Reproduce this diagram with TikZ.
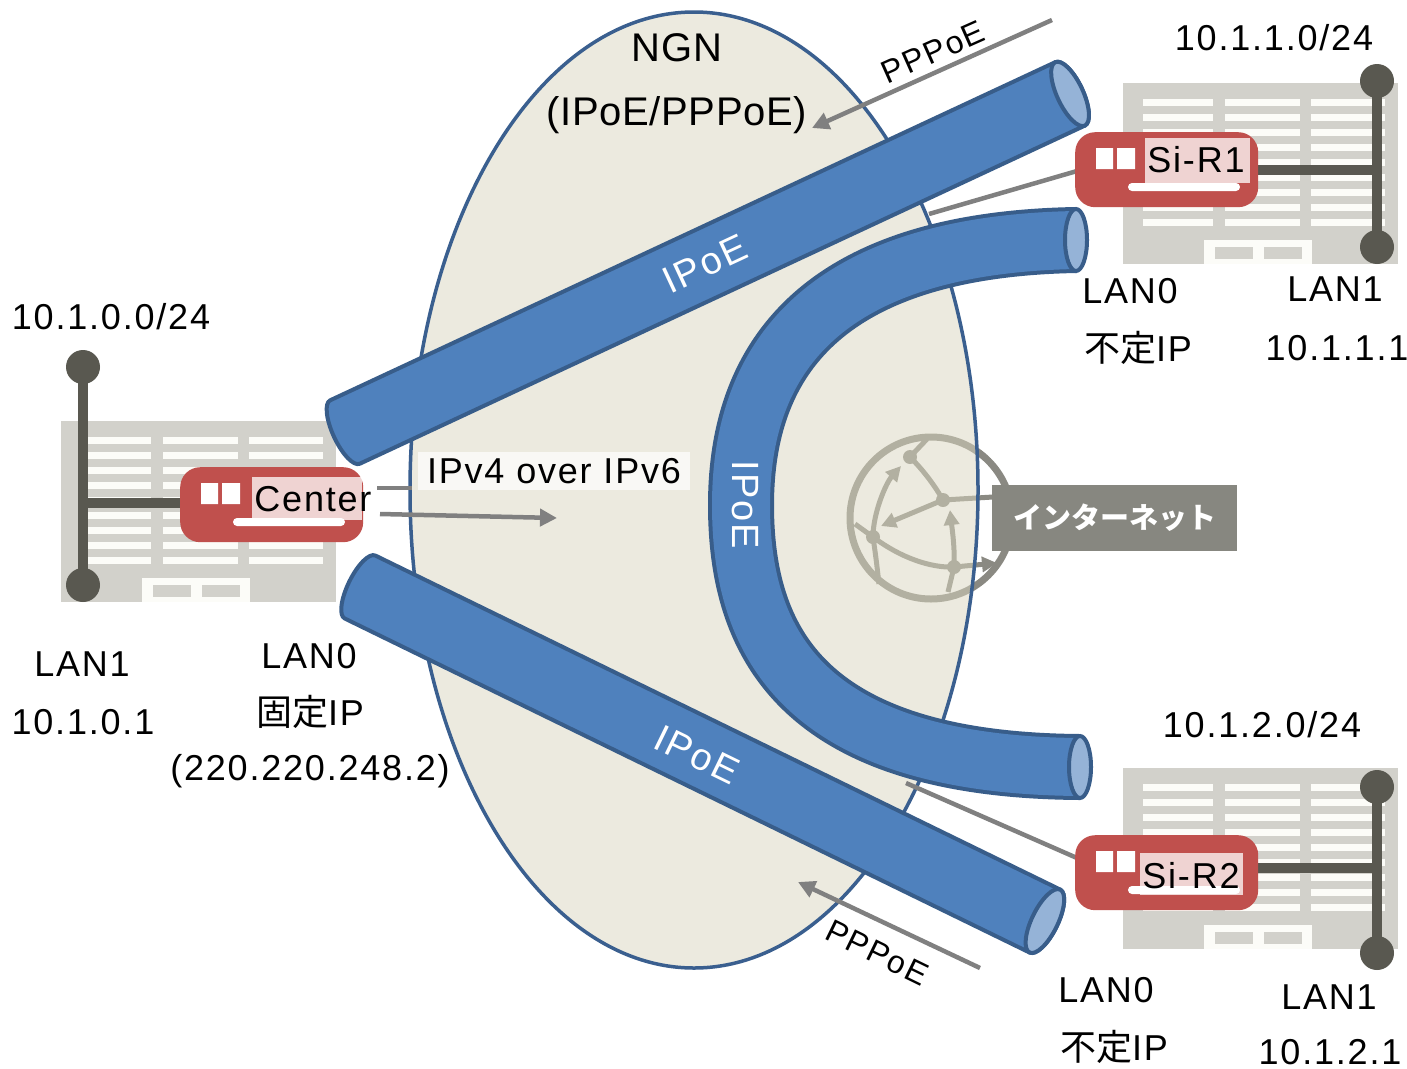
\documentclass[tikz,border=0pt]{standalone}
\usepackage{fontspec}
\setmainfont{Liberation Sans}[LetterSpace=5]
\newfontfamily\plainsans{Liberation Sans}[LetterSpace=1.5]
\newfontfamily\cjk{Noto Sans CJK JP}
\usetikzlibrary{arrows.meta,shapes.geometric}

\definecolor{pipefill}{HTML}{4F81BD}
\definecolor{pipeline}{HTML}{385D8A}
\definecolor{pipeface}{HTML}{95B3D7}
\definecolor{ngnline}{HTML}{3A5F8F}
\definecolor{ngnfill}{RGB}{219,215,192}
\definecolor{routerred}{HTML}{C0504D}
\definecolor{lanbar}{RGB}{89,88,80}
\definecolor{bldg}{RGB}{210,209,203}
\definecolor{stripe}{RGB}{252,252,248}
\definecolor{linkgray}{RGB}{128,128,128}
\definecolor{netgray}{RGB}{138,137,130}
\definecolor{tagbox}{RGB}{135,135,128}

% office building: gray block with window stripes and a door
\newcommand{\building}[2]{%
  \begin{scope}[shift={(#1,#2)}]
    \fill[bldg] (0,0) rectangle (275,181);
    \foreach \r in {0,...,8}{
      \foreach \a/\b in {20/90,102/177,188/262}{
        \fill[stripe] (\a,16+15*\r) rectangle (\b,23+15*\r);
      }
    }
    \fill[stripe] (81,157) rectangle (189,181);
    \fill[bldg] (92,164) rectangle (130,176);
    \fill[bldg] (141,164) rectangle (179,176);
  \end{scope}}

% router body: red rounded box, two white lamps and a white slot
\newcommand{\routerbody}[3]{%
  \node[routershape, anchor=north west] (#1) at (#2,#3) {};
  \begin{scope}[shift={(#2,#3)}]
    \fill[white] (21,16) rectangle (38,37) (42,16) rectangle (60,37);
    \fill[white, rounded corners=4pt] (53,51) rectangle (165,59);
  \end{scope}}

% straight tube: origin of the axis, angle, length
\newcommand{\straightpipe}[3]{%
  \begin{scope}[shift={#1}, rotate=#2]
    \filldraw[fill=pipefill, draw=pipeline, line width=4pt, line join=round]
      (0,-35) -- (#3,-35)
      arc[start angle=90, end angle=-90, x radius=13pt, y radius=35pt]
      -- (0,35)
      arc[start angle=270, end angle=90, x radius=12pt, y radius=35pt]
      -- cycle;
    \filldraw[fill=pipeface, draw=pipeline, line width=4pt]
      (#3,0) ellipse[x radius=13pt, y radius=35pt];
  \end{scope}}

\tikzset{
  lbl/.style={font=\fontsize{36}{40}\selectfont, inner sep=0pt, text=black},
  ppplbl/.style={font=\fontsize{32}{36}\selectfont, inner sep=2pt, text=black,
    fill=white, fill opacity=0.5, text opacity=1},
  pipelabel/.style={font=\fontsize{38}{42}\selectfont, text=white, inner sep=0pt},
  routershape/.style={fill=routerred, rounded corners=20pt, minimum width=183pt,
    minimum height=75pt, inner sep=0pt},
  namebg/.style={fill=white, fill opacity=0.75},
  link/.style={draw=linkgray, line width=4.5pt},
  linkarrow/.style={link, -{Triangle[length=17pt,width=17pt]}},
  lanline/.style={draw=lanbar, line width=10pt},
  netarrow/.style={-{Triangle[length=15pt,width=15pt]}},
}

\begin{document}
\begin{tikzpicture}[x=1pt, y=-1pt]
\useasboundingbox (0,0) rectangle (1407,1068);
\fill[white] (0,0) rectangle (1407,1068);

% ---------- buildings ----------
\building{61}{421}
\building{1123}{83}
\building{1123}{768}

% ---------- LAN segments ----------
\coordinate (l0top) at (83,367);
\coordinate (l0bot) at (83,585);
\coordinate (l0mid) at (83,503);
\draw[lanline] (l0top) -- (l0bot);
\fill[lanbar] (l0top) circle[radius=17pt] (l0bot) circle[radius=17pt];
\draw[lanline] (l0mid) -- (200,503);

\coordinate (l1top) at (1377,81);
\coordinate (l1bot) at (1377,247);
\coordinate (l1mid) at (1377,170);
\draw[lanline] (l1top) -- (l1bot);
\fill[lanbar] (l1top) circle[radius=17pt] (l1bot) circle[radius=17pt];
\draw[lanline] (l1mid) -- (1240,170);

\coordinate (l2top) at (1377,787);
\coordinate (l2bot) at (1377,953);
\coordinate (l2mid) at (1377,868);
\draw[lanline] (l2top) -- (l2bot);
\fill[lanbar] (l2top) circle[radius=17pt] (l2bot) circle[radius=17pt];
\draw[lanline] (l2mid) -- (1240,868);

% ---------- internet globe ----------
\begin{scope}[shift={(931,518)}, netgray, line width=5pt]
  \draw[line width=7pt] (0,0) circle[radius=81pt];
  \draw (-21,-61) -- (-4,-79);
  \draw (-21,-61) .. controls (-5,-45) and (5,-30) .. (12,-18);
  \draw (12,-18) -- (62,-21);
  \draw[netarrow] (12,-18) -- (-50,8);
  \draw[netarrow] (-58,19) .. controls (-58,-5) and (-45,-35) .. (-30,-52);
  \draw[netarrow] (23,49) .. controls (24,30) and (21,10) .. (19,-8);
  \draw (-58,19) .. controls (-30,40) and (0,50) .. (23,49);
  \draw[netarrow] (23,49) -- (66,45);
  \draw (-58,19) -- (-76,6);
  \draw (-58,19) .. controls (-55,40) .. (-52,66);
  \draw (23,49) -- (17,74);
  \fill (-21,-61) circle[radius=7pt] (12,-18) circle[radius=7pt]
        (-58,19) circle[radius=7pt] (23,49) circle[radius=7pt];
\end{scope}

% ---------- NGN cloud ----------
\node[ellipse, draw=ngnline, line width=3.5pt, fill=ngnfill, fill opacity=0.5,
      minimum width=568pt, minimum height=956pt, inner sep=0pt] (ngn) at (694,490) {};
\node[font=\plainsans\fontsize{40}{44}\selectfont, inner sep=0pt] (ngnname) at (677,48) {NGN};
\node[font=\plainsans\fontsize{40}{44}\selectfont, inner sep=0pt] (ngnkind) at (677,115) {(IPoE/PPPoE)};

% ---------- access lines into the NGN ----------
\coordinate (c1s) at (377,488);
\coordinate (c1e) at (412,488);
\draw[link] (c1s) -- (c1e);
\coordinate (r1s) at (1077,171);
\coordinate (r1e) at (929,214);
\draw[link] (r1s) -- (r1e);
\coordinate (r2s) at (1077,858);
\coordinate (r2e) at (906,783);
\draw[link] (r2s) -- (r2e);

% ---------- tunnels ----------
\straightpipe{(345,432)}{25}{800}
\straightpipe{(360,587)}{-26}{762}
\draw[draw=pipeline, line width=4pt, double=pipefill, double distance=58pt]
  (1076,240) .. controls (800,245) and (741,380) .. (741,505)
  .. controls (741,640) and (800,765) .. (1080,767);
\filldraw[fill=pipeface, draw=pipeline, line width=4pt] (1076,240) ellipse[x radius=11pt, y radius=31pt];
\filldraw[fill=pipeface, draw=pipeline, line width=4pt] (1080,767) ellipse[x radius=11pt, y radius=31pt];

\node[pipelabel, rotate=25] (ipoe1) at (705,264) {IPoE};
\node[pipelabel, rotate=-26] (ipoe2) at (697,755) {IPoE};
\node[pipelabel, rotate=-90] (ipoe3) at (745,505) {IPoE};

% ---------- routers ----------
\routerbody{center}{180}{467}
\fill[namebg] (252,477) rectangle (362,520);
\node[lbl] (centername) at (313,499) {Center};

\routerbody{sir1}{1075}{132}
\fill[namebg] (1145,138) rectangle (1250,183);
\node[lbl] (sir1name) at (1196,160) {Si-R1};

\routerbody{sir2}{1075}{835}
\fill[namebg] (1140,853) rectangle (1243,895);
\node[lbl] (sir2name) at (1191,876) {Si-R2};

% ---------- IPv4 over IPv6 ----------
\node[lbl, fill=white, fill opacity=0.7, text opacity=1, minimum width=272pt,
      minimum height=38pt] (v4v6) at (554,471) {IPv4 over IPv6};
\coordinate (v4s) at (380,514);
\coordinate (v4e) at (557,518);
\draw[linkarrow] (v4s) -- (v4e);

% ---------- PPPoE ----------
\coordinate (p1s) at (1052,20);
\coordinate (p1e) at (812,128);
\draw[linkarrow] (p1s) -- (p1e);
\node[ppplbl, rotate=24] (ppp1) at (933,52) {PPPoE};

\coordinate (p2s) at (980,968);
\coordinate (p2e) at (798,882);
\draw[linkarrow] (p2s) -- (p2e);
\node[ppplbl, rotate=-26] (ppp2) at (877,953) {PPPoE};

% ---------- Internet ----------
\node[fill=tagbox, text=white, font=\cjk\bfseries\fontsize{29}{33}\selectfont,
      minimum width=245pt, minimum height=66pt, inner sep=0pt] (inet) at (1114.5,518) {インターネット};

% ---------- addresses ----------
\node[lbl] (net0) at (111,317) {10.1.0.0/24};
\node[lbl] (lan1a) at (82,664) {LAN1};
\node[lbl] (ip0) at (83,722) {10.1.0.1};
\node[lbl] (lan0a) at (309,656) {LAN0};
\node[lbl] (fixa) at (310,712) {{\cjk 固定}IP};
\node[lbl] (wan0) at (310,771) {(220.220.248.2)};

\node[lbl] (net1) at (1274,38) {10.1.1.0/24};
\node[lbl] (lan0b) at (1130,291) {LAN0};
\node[lbl] (dynb) at (1138,348) {{\cjk 不定}IP};
\node[lbl] (lan1b) at (1335,289) {LAN1};
\node[lbl] (ip1) at (1337,348) {10.1.1.1};

\node[lbl] (net2) at (1262,725) {10.1.2.0/24};
\node[lbl] (lan0c) at (1106,990) {LAN0};
\node[lbl] (dync) at (1114,1047) {{\cjk 不定}IP};
\node[lbl] (lan1c) at (1329,997) {LAN1};
\node[lbl] (ip2) at (1330,1052) {10.1.2.1};
\end{tikzpicture}
\end{document}
